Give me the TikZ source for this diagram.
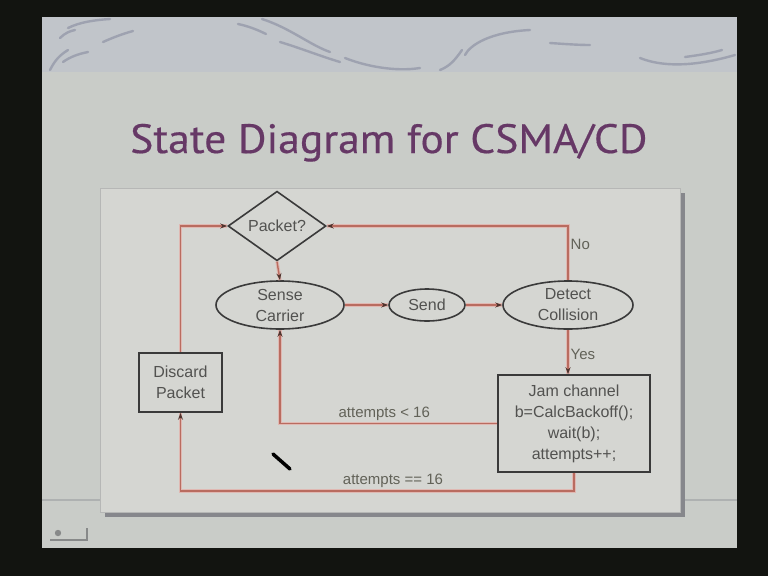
\documentclass[tikz,border=0pt]{standalone}
\usepackage{fontspec}
\setmainfont{Liberation Sans}
\newfontfamily\titlefont[FakeStretch=1.065,FakeBold=0.4]{PT Sans}
\usetikzlibrary{shapes.geometric,arrows.meta}

\definecolor{screen}{RGB}{18,20,16}
\definecolor{slidebg}{RGB}{201,204,200}
\definecolor{bandbg}{RGB}{193,197,202}
\definecolor{swirl}{RGB}{158,162,176}
\definecolor{panelbg}{RGB}{213,214,210}
\definecolor{panelrim}{RGB}{182,183,182}
\definecolor{shadowc}{RGB}{134,135,140}
\definecolor{rulec}{RGB}{174,177,177}
\definecolor{titlec}{RGB}{102,56,102}
\definecolor{inkc}{RGB}{82,82,80}
\definecolor{outlinec}{RGB}{58,58,58}
\definecolor{linkred}{RGB}{185,108,96}
\definecolor{halo}{RGB}{224,184,178}
\definecolor{tipc}{RGB}{80,52,46}
\definecolor{labelc}{RGB}{98,98,88}
\definecolor{iconc}{RGB}{135,137,137}

\tikzset{
  swirlline/.style={draw=swirl, line width=2.4pt, line cap=round},
  txt/.style={font=\fontsize{16}{21}\selectfont, text=inkc, align=center},
  statebox/.style={txt, draw=outlinec, line width=1.6pt, ellipse, inner sep=0pt},
  actionbox/.style={txt, draw=outlinec, line width=1.6pt, rectangle, inner sep=0pt},
  choicebox/.style={txt, draw=outlinec, line width=1.6pt, diamond, inner sep=0pt},
  link/.style={draw=linkred, line width=1.4pt,
    -{Stealth[length=7pt,width=5pt,color=tipc]},
    preaction={draw=halo, line width=3.4pt, arrows=-}},
  linklabel/.style={font=\fontsize{15}{18}\selectfont, text=labelc, inner sep=2pt},
}

\begin{document}
\begin{tikzpicture}[x=1pt,y=-1pt]
\useasboundingbox (0,0) rectangle (768,576);

% screen and slide
\fill[screen] (0,0) rectangle (768,576);
\fill[slidebg] (42,17) rectangle (737,548);
\fill[bandbg] (42,17) rectangle (737,72);

% decorative swirls in the header band
\draw[swirlline] (50,70) .. controls (55,60) and (60,55) .. (68,50);
\draw[swirlline] (63,62) .. controls (70,57) and (78,54) .. (88,52);
\draw[swirlline] (60,38) .. controls (65,33) and (70,31) .. (75,30);
\draw[swirlline] (68,28) .. controls (80,22) and (95,20) .. (110,19);
\draw[swirlline] (103,42) .. controls (112,38) and (122,34) .. (133,31);
\draw[swirlline] (238,24) .. controls (248,26) and (258,30) .. (266,34);
\draw[swirlline] (262,19) .. controls (290,28) and (310,45) .. (330,52);
\draw[swirlline] (280,42) .. controls (300,48) and (320,56) .. (340,62);
\draw[swirlline] (345,58) .. controls (365,66) and (395,72) .. (420,68);
\draw[swirlline] (440,70) .. controls (450,66) and (455,60) .. (462,50);
\draw[swirlline] (465,55) .. controls (470,45) and (490,32) .. (530,30);
\draw[swirlline] (550,43) .. controls (565,44) and (578,45) .. (590,45);
\draw[swirlline] (640,58) .. controls (660,66) and (690,68) .. (735,55);
\draw[swirlline] (685,57) .. controls (700,55) and (712,53) .. (722,50);

% title
\node[anchor=base west, inner sep=0pt, text=titlec,
      font=\titlefont\fontsize{41}{41}\selectfont] (title) at (130,153)
      {State Diagram for CSMA/CD};

% faint rule across the slide and the diagram panel with its shadow
\draw[rulec, line width=1.5pt] (42,500) -- (737,500);
\fill[shadowc] (105,193) rectangle (685,517);
\fill[panelbg, draw=panelrim, line width=0.8pt] (100,188) rectangle (680,512);

% states
\node[choicebox, minimum width=98pt, minimum height=62pt] (pkt) at (277,226) {Packet?};
\node[statebox, minimum width=128pt, minimum height=48pt] (sense) at (280,305) {Sense\\Carrier};
\node[statebox, minimum width=76pt, minimum height=32pt] (send) at (427,305) {Send};
\node[statebox, minimum width=130pt, minimum height=48pt] (detect) at (568,305) {Detect\\Collision};
\node[actionbox, minimum width=152pt, minimum height=97pt] (jam) at (574,423.5)
  {Jam channel\\b=CalcBackoff();\\wait(b);\\attempts++;};
\node[actionbox, minimum width=83pt, minimum height=59pt] (discard) at (180.5,382.5)
  {Discard\\Packet};

% transitions
\draw[link] (pkt.south) -- (sense.north);
\draw[link] (sense) -- (send);
\draw[link] (send) -- (detect);
\draw[link] (detect.north) |- node[pos=0.33, right, linklabel] {No} (pkt.east);
\draw[link] (detect.south) -- node[pos=0.55, right, linklabel] {Yes} (detect.south |- jam.north);
\draw[link] (jam.west) -| node[pos=0.26, above, linklabel] {attempts < 16} (sense.south);
\draw[link] (jam.south) -- ++(0,18) -| node[pos=0.23, above, linklabel] {attempts == 16} (discard.south);
\draw[link] (discard.north) |- (pkt.west);

% pointer mark
\draw[black, line width=3.5pt, line cap=round] (273,454) -- (290,469);

% slide show control icon
\fill[iconc] (58,533) circle (3.2pt);
\draw[iconc, line width=1.6pt] (50,540) -- (87,540) -- (87,528);
\end{tikzpicture}
\end{document}
